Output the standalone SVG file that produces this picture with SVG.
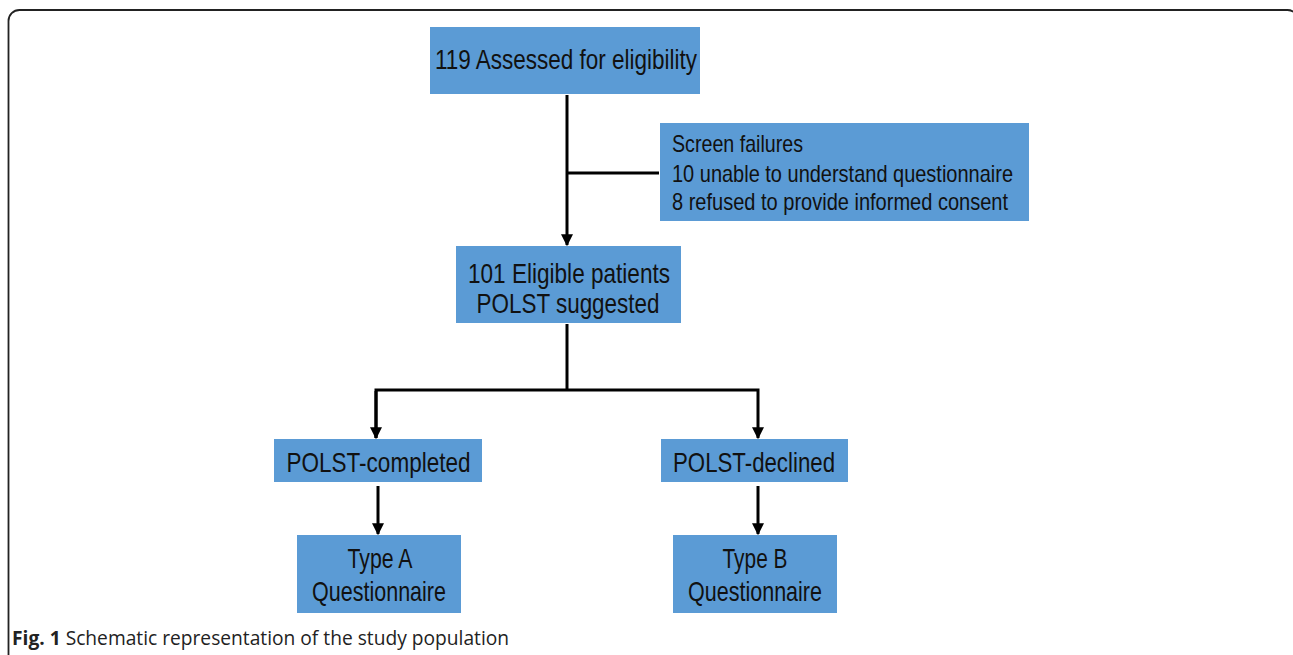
<svg xmlns="http://www.w3.org/2000/svg" width="1293" height="655" viewBox="0 0 1293 655">
<style>
.box{fill:#5B9BD5;}
.t{font-family:"Liberation Sans",Arial,sans-serif;font-size:28.5px;fill:#111;}
.ts{font-family:"Liberation Sans",Arial,sans-serif;font-size:24px;fill:#111;}
.c{stroke:#000;stroke-width:3;fill:none;}
.cap{font-family:"Open Sans","DejaVu Sans",sans-serif;font-size:19.2px;fill:#222;}
</style>
<defs>
<marker id="ah" viewBox="0 0 10 10" refX="9" refY="5" markerWidth="4" markerHeight="4" orient="auto" markerUnits="strokeWidth">
<path d="M0,0 L10,5 L0,10 z" fill="#000"/>
</marker>
</defs>
<rect width="1293" height="655" fill="#fff"/>
<rect x="8.5" y="10" width="1290" height="720" rx="11" fill="none" stroke="#222" stroke-width="1.8"/>

<g id="connectors">
<line class="c" x1="567" y1="95" x2="567" y2="245" marker-end="url(#ah)"/>
<line class="c" x1="567" y1="173" x2="659" y2="173"/>
<line class="c" x1="567" y1="324" x2="567" y2="390"/>
<polyline class="c" points="376,438 376,390 758,390 758,438" marker-end="url(#ah)"/>
<line class="c" x1="376" y1="391" x2="376" y2="438" marker-end="url(#ah)"/>
<line class="c" x1="378" y1="486" x2="378" y2="534" marker-end="url(#ah)"/>
<line class="c" x1="758" y1="486" x2="758" y2="534" marker-end="url(#ah)"/>
</g>

<g id="assessed">
<rect class="box" x="430" y="27" width="270" height="67"/>
<text class="t" x="566" y="69" text-anchor="middle" textLength="262" lengthAdjust="spacingAndGlyphs">119 Assessed for eligibility</text>
</g>
<g id="screen-failures">
<rect class="box" x="660" y="123" width="369" height="98"/>
<text class="ts" x="672" y="152" textLength="131" lengthAdjust="spacingAndGlyphs">Screen failures</text>
<text class="ts" x="672" y="182" textLength="341" lengthAdjust="spacingAndGlyphs">10 unable to understand questionnaire</text>
<text class="ts" x="672" y="210" textLength="336" lengthAdjust="spacingAndGlyphs">8 refused to provide informed consent</text>
</g>
<g id="eligible">
<rect class="box" x="456" y="246" width="225" height="77"/>
<text class="t" x="569" y="283" text-anchor="middle" textLength="202" lengthAdjust="spacingAndGlyphs">101 Eligible patients</text>
<text class="t" x="568" y="313" text-anchor="middle" textLength="183" lengthAdjust="spacingAndGlyphs">POLST suggested</text>
</g>
<g id="completed">
<rect class="box" x="274" y="439" width="208" height="43"/>
<text class="t" x="378.5" y="472" text-anchor="middle" textLength="184" lengthAdjust="spacingAndGlyphs">POLST-completed</text>
</g>
<g id="declined">
<rect class="box" x="661" y="439" width="187" height="43"/>
<text class="t" x="754" y="472" text-anchor="middle" textLength="162" lengthAdjust="spacingAndGlyphs">POLST-declined</text>
</g>
<g id="typeA">
<rect class="box" x="297" y="535" width="164" height="78"/>
<text class="t" x="380" y="568" text-anchor="middle" textLength="65" lengthAdjust="spacingAndGlyphs">Type A</text>
<text class="t" x="379" y="601" text-anchor="middle" textLength="134" lengthAdjust="spacingAndGlyphs">Questionnaire</text>
</g>
<g id="typeB">
<rect class="box" x="673" y="535" width="164" height="78"/>
<text class="t" x="755" y="568" text-anchor="middle" textLength="65" lengthAdjust="spacingAndGlyphs">Type B</text>
<text class="t" x="755" y="601" text-anchor="middle" textLength="134" lengthAdjust="spacingAndGlyphs">Questionnaire</text>
</g>

<text class="cap" x="12" y="645"><tspan font-weight="bold">Fig. 1</tspan> Schematic representation of the study population</text>
</svg>
